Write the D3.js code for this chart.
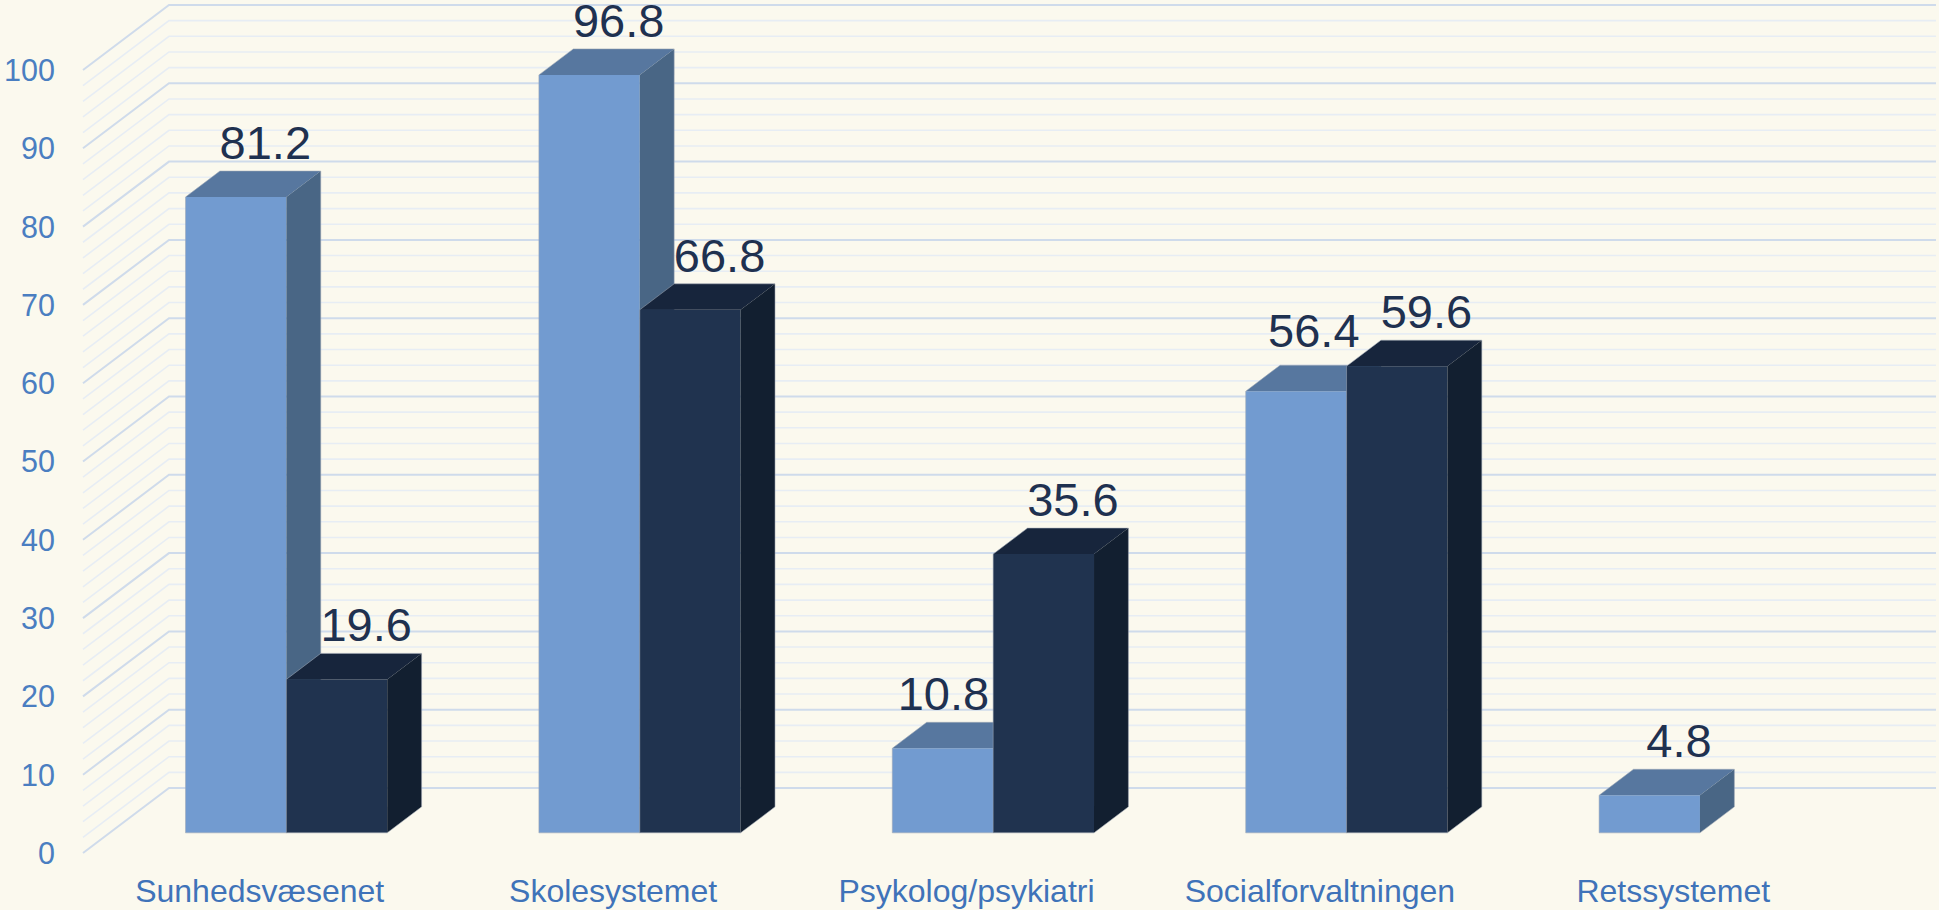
<!DOCTYPE html>
<html>
<head>
<meta charset="utf-8">
<script src="https://cdn.jsdelivr.net/npm/d3@7"></script>
<style>
    html, body { margin: 0; padding: 0; background: #fbf9ee; }
    svg { display: block; font-family: 'Liberation Sans', Arial, sans-serif; }
</style>
</head>
<body>
<svg id="chart"></svg>
<script>
// 3D clustered column chart — two series per category

const categories = ['Sunhedsvæsenet', 'Skolesystemet', 'Psykolog/psykiatri', 'Socialforvaltningen', 'Retssystemet'];
const seriesNames = ['serie1', 'serie2'];
const serie1Values = [81.2, 96.8, 10.8, 56.4, 4.8];
const serie2Values = [19.6, 66.8, 35.6, 59.6, null];
const yTickValues = [0, 10, 20, 30, 40, 50, 60, 70, 80, 90, 100];
const gridValues = d3.range(0, 101, 2);

(function () {
    const WIDTH = 1939;
    const HEIGHT = 910;

    // front plane of the floor, and the depth of the box
    const FRONT_LEFT = 83;
    const FRONT_RIGHT = 1850;
    const FRONT_BOTTOM = 853;
    const FRONT_TOP = 70;
    const DEPTH_X = 86;
    const DEPTH_Y = 65;
    const BAR_FRONT = 0.31;   // fraction of depth where bar front face sits
    const BAR_BACK = 0.71;

    const LABEL_SIZE = 47;
    const LABEL_GAP = 12;

    const COLORS = {
        serie1: { front: '#729bd0', top: '#57779f', side: '#496685' },
        serie2: { front: '#20334f', top: '#17253c', side: '#121f30' }
    };

    const svg = d3.select('#chart')
        .attr('width', WIDTH)
        .attr('height', HEIGHT);

    svg.append('rect')
        .attr('width', WIDTH)
        .attr('height', HEIGHT)
        .attr('fill', '#fbf9ee');

    const x0 = d3.scaleBand()
        .domain(categories)
        .range([FRONT_LEFT, FRONT_RIGHT])
        .paddingInner(0)
        .paddingOuter(0);

    const x1 = d3.scaleBand()
        .domain(seriesNames)
        .range([0, x0.bandwidth()])
        .paddingInner(0)
        .paddingOuter(0.752);

    const y = d3.scaleLinear()
        .domain([0, 100])
        .range([FRONT_BOTTOM, FRONT_TOP]);

    // project a front-plane point back by fraction f of the depth
    const proj = (px, py, f) => [px + f * DEPTH_X, py - f * DEPTH_Y];
    const poly = pts => 'M' + pts.map(p => p.join(',')).join('L') + 'Z';

    // Gridlines: left side wall diagonals + back wall horizontals
    const grid = svg.append('g');
    grid.selectAll('path')
        .data(gridValues)
        .join('path')
        .attr('d', v => {
            const a = proj(FRONT_LEFT, y(v), 0);
            const b = proj(FRONT_LEFT, y(v), 1);
            const c = proj(FRONT_RIGHT, y(v), 1);
            return 'M' + a.join(',') + 'L' + b.join(',') + 'L' + c.join(',');
        })
        .attr('fill', 'none')
        .attr('stroke', v => v % 10 === 0 ? '#cfdbeb' : '#e7edf4')
        .attr('stroke-width', v => v % 10 === 0 ? 2 : 1.6);

    // Y axis labels
    svg.append('g')
        .selectAll('text')
        .data(yTickValues)
        .join('text')
        .attr('x', 55)
        .attr('y', d => y(d))
        .attr('dy', '0.36em')
        .attr('text-anchor', 'end')
        .attr('font-size', '30.5px')
        .attr('fill', '#4a7ec1')
        .text(d => d);

    // bar records
    const bars = [];
    categories.forEach((c, i) => {
        [serie1Values[i], serie2Values[i]].forEach((v, j) => {
            if (v == null) return;
            bars.push({ category: c, series: seriesNames[j], value: v });
        });
    });

    const barGroup = svg.append('g');
    const barG = barGroup.selectAll('g')
        .data(bars)
        .join('g');

    const corners = d => {
        const xl = x0(d.category) + x1(d.series);
        const xr = xl + x1.bandwidth();
        const yt = y(d.value);
        const yb = y(0);
        return { xl, xr, yt, yb };
    };

    barG.append('path')
        .attr('d', d => {
            const { xl, xr, yt, yb } = corners(d);
            return poly([proj(xl, yt, BAR_FRONT), proj(xr, yt, BAR_FRONT), proj(xr, yb, BAR_FRONT), proj(xl, yb, BAR_FRONT)]);
        })
        .attr('fill', d => COLORS[d.series].front);

    barG.append('path')
        .attr('d', d => {
            const { xl, xr, yt } = corners(d);
            return poly([proj(xl, yt, BAR_FRONT), proj(xr, yt, BAR_FRONT), proj(xr, yt, BAR_BACK), proj(xl, yt, BAR_BACK)]);
        })
        .attr('fill', d => COLORS[d.series].top);

    barG.append('path')
        .attr('d', d => {
            const { xr, yt, yb } = corners(d);
            return poly([proj(xr, yt, BAR_FRONT), proj(xr, yt, BAR_BACK), proj(xr, yb, BAR_BACK), proj(xr, yb, BAR_FRONT)]);
        })
        .attr('fill', d => COLORS[d.series].side);

    // thin light outline round the silhouette
    barG.append('path')
        .attr('d', d => {
            const { xl, xr, yt, yb } = corners(d);
            return poly([
                proj(xl, yb, BAR_FRONT), proj(xl, yt, BAR_FRONT), proj(xl, yt, BAR_BACK),
                proj(xr, yt, BAR_BACK), proj(xr, yb, BAR_BACK), proj(xr, yb, BAR_FRONT)
            ]);
        })
        .attr('fill', 'none')
        .attr('stroke', '#9ea8b5')
        .attr('stroke-opacity', 0.55)
        .attr('stroke-width', 1);

    // value label placement: above back edge of the top face,
    // pushed left (and a bit up) when the neighbouring bar is in the way
    const labelPos = d => {
        const { xl, xr } = corners(d);
        let cx = (xl + xr) / 2 + BAR_BACK * DEPTH_X - 5;
        let by = y(d.value) - BAR_BACK * DEPTH_Y - LABEL_GAP;
        const halfW = LABEL_SIZE * 1.946 / 2;
        const next = bars.find(b => b.category === d.category && b.series !== d.series && d.series === 'serie1');
        if (next) {
            const n = corners(next);
            const frontLeft = n.xl + BAR_FRONT * DEPTH_X;
            const frontTop = n.yt - BAR_FRONT * DEPTH_Y;
            const backTop = n.yt - BAR_BACK * DEPTH_Y;
            if (by > frontTop) {
                cx = Math.min(cx, frontLeft - 4 - halfW);
            } else if (by > backTop) {
                cx = Math.min(cx, frontLeft + 13 - halfW);
                by -= 6;
            }
        }
        return { cx, by };
    };

    svg.append('g')
        .selectAll('text')
        .data(bars)
        .join('text')
        .attr('x', d => labelPos(d).cx)
        .attr('y', d => labelPos(d).by)
        .attr('text-anchor', 'middle')
        .attr('font-size', LABEL_SIZE + 'px')
        .attr('fill', '#1f3150')
        .text(d => d.value.toFixed(1));

    // category labels
    svg.append('g')
        .selectAll('text')
        .data(categories)
        .join('text')
        .attr('x', d => x0(d) + x0.bandwidth() / 2)
        .attr('y', 902)
        .attr('text-anchor', 'middle')
        .attr('font-size', '32px')
        .attr('fill', '#3f73b9')
        .text(d => d);
})();
</script>
</body>
</html>
